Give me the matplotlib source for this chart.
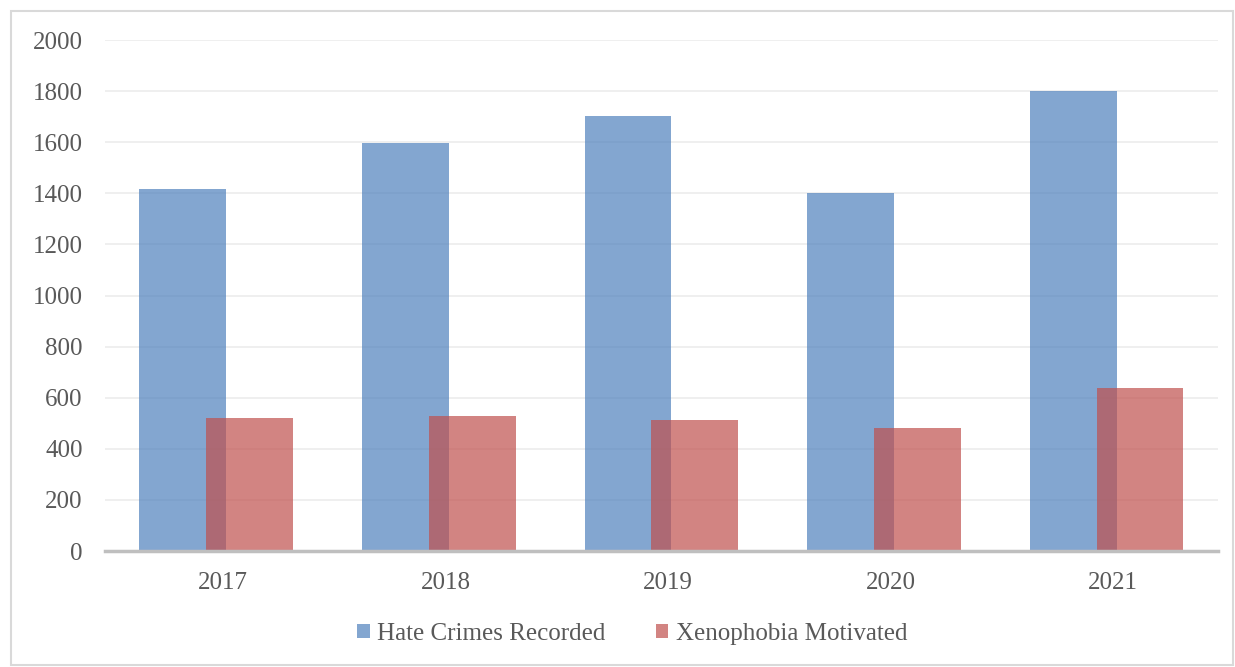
import matplotlib.pyplot as plt
from matplotlib.patches import Rectangle, Patch
import numpy as np

years = ['2017', '2018', '2019', '2020', '2021']
hate_crimes = [1418, 1598, 1703, 1400, 1800]
xenophobia = [522, 528, 513, 482, 638]

plt.rcParams['font.family'] = ['Liberation Serif', 'DejaVu Serif']
text_grey = '#595959'
blue = '#4F81BD'
red = '#C0504D'

fig = plt.figure(figsize=(12.35, 6.67), dpi=100)
ax = fig.add_axes([0.085, 0.1739, 0.9012, 0.7661])

x = np.arange(len(years))
w = 0.39
ax.bar(x - 0.15, hate_crimes, w, color=blue, alpha=0.7, zorder=2)
ax.bar(x + 0.15, xenophobia, w, color=red, alpha=0.7, zorder=3)

ax.set_xlim(-0.5, len(years) - 0.5)
ax.set_ylim(0, 2000)
ax.set_yticks(range(0, 2001, 200))
ax.set_xticks(x + 0.03)
ax.set_xticklabels(years)

ax.yaxis.grid(True, color='#ECECEC', linewidth=1.2, zorder=0)
ax.set_axisbelow(True)
for side in ['top', 'right', 'left']:
    ax.spines[side].set_visible(False)
ax.spines['bottom'].set_color('#BFBFBF')
ax.spines['bottom'].set_linewidth(2.5)
ax.spines['bottom'].set_zorder(4)

ax.tick_params(axis='y', length=0, pad=16, labelsize=18, labelcolor=text_grey)
ax.tick_params(axis='x', length=0, pad=15, labelsize=18, labelcolor=text_grey)

# chart frame
fig.patches.append(Rectangle((11 / 1235, 2 / 667), 1222 / 1235, 654 / 667,
                             transform=fig.transFigure, fill=False,
                             edgecolor='#D9D9D9', linewidth=1.5))

handles = [Patch(facecolor=blue, edgecolor='none', alpha=0.7),
           Patch(facecolor=red, edgecolor='none', alpha=0.7)]
fig.legend(handles, ['Hate Crimes Recorded', 'Xenophobia Motivated'],
           loc='center', bbox_to_anchor=(0.512, 0.05), ncol=2, frameon=False,
           fontsize=18, labelcolor=text_grey, handlelength=0.5, handleheight=0.5,
           handletextpad=0.3, columnspacing=2.0)

fig.savefig('out.png', dpi=100)
